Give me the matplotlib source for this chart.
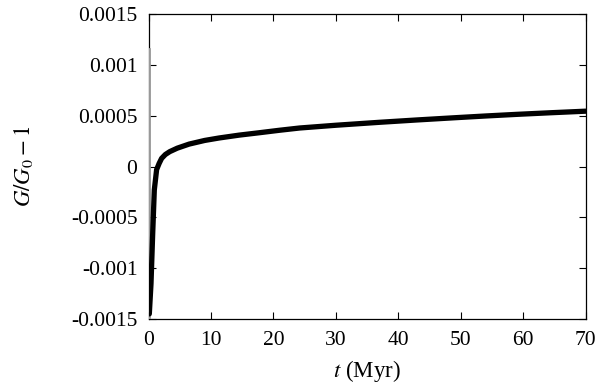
import matplotlib
matplotlib.use("Agg")
import matplotlib.pyplot as plt
from matplotlib.ticker import FuncFormatter

# values
t_myr = [0.13, 0.4, 0.67, 0.93, 1.3, 1.7, 2.1, 2.7, 3.4, 4.6, 6.5, 9.0,
         11.3, 14.5, 17.8, 21.0, 24.2, 30.0, 37.0, 43.0, 49.4, 54.0, 59.0,
         64.5, 70.0]
g_rel = [-0.001446, -0.00115, -0.00066, -0.00023, -0.00003, 0.00003,
         0.00008, 0.000118, 0.000146, 0.00018, 0.00022, 0.000256,
         0.00028, 0.000308, 0.000332, 0.000356, 0.000378, 0.000405,
         0.000434, 0.000457, 0.00048, 0.000496, 0.000512, 0.000528, 0.000543]

# early oscillation, squeezed into a vertical streak at t ~ 0
t_early = [0.1, 0.1]
g_early = [-0.0015, 0.00115]

y_ticks = [-0.0015, -0.001, -0.0005, 0, 0.0005, 0.001, 0.0015]
x_ticks = [0, 10, 20, 30, 40, 50, 60, 70]

plt.rcParams["font.family"] = ["Liberation Serif", "DejaVu Serif"]
plt.rcParams["mathtext.fontset"] = "stix"

fig = plt.figure(figsize=(6, 3.9), dpi=100)
ax = fig.add_axes([0.2475, 0.181, 0.7285, 0.784])

ax.plot(t_early, g_early, color="#999999", lw=2, zorder=3)
ax.plot(t_myr, g_rel, color="black", lw=3.8, solid_capstyle="round",
        solid_joinstyle="round", zorder=4)

ax.set_xlim(0, 70)
ax.set_ylim(-0.0015, 0.0015)
ax.set_xticks(x_ticks)
ax.set_yticks(y_ticks)
ax.yaxis.set_major_formatter(FuncFormatter(lambda v, p: "%g" % round(v, 6)))
ax.tick_params(direction="in", top=True, right=True, length=5, width=0.8,
               labelsize=15.5, pad=8)
for s in ax.spines.values():
    s.set_linewidth(0.9)

ax.set_xlabel("$t$ (Myr)", fontsize=16.5, labelpad=6)
ax.set_ylabel("$G/G_0-1$", fontsize=16.5, labelpad=26)

fig.savefig("out.png", dpi=100)
